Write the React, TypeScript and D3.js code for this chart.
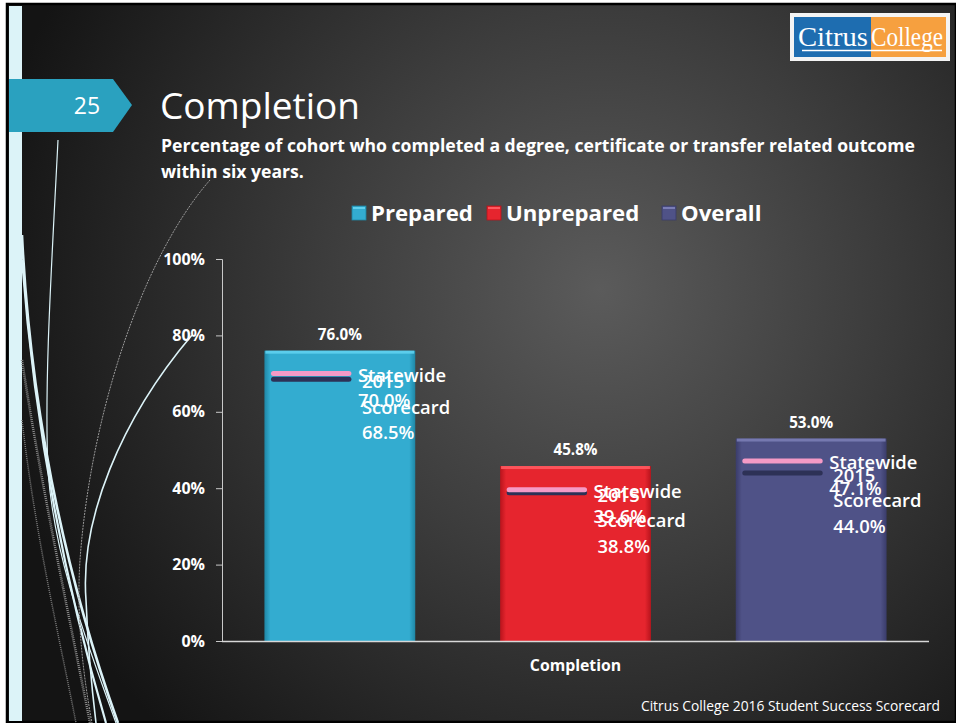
import { useRef, useEffect } from "react";
import * as d3 from "d3";

const categories = ["Completion"];
const series = ["Prepared", "Unprepared", "Overall"];
const values = [76.0, 45.8, 53.0];
const statewide = [70.0, 39.6, 47.1];
const scorecard2015 = [68.5, 38.8, 44.0];
const yTicks = [0, 20, 40, 60, 80, 100];
const colors = ["#33acd0", "#e6252e", "#4f5287"];
const colorsLight = ["#5fd0ee", "#ff5a60", "#7a7db5"];
const colorsDark = ["#1f87a6", "#b8141c", "#3a3c6a"];

const W = 956;
const H = 723;
const MARGIN = { top: 259, right: 27, bottom: 82, left: 222 };
const FONT = "'Open Sans', 'Noto Sans', sans-serif";
const SERIF = "'Liberation Serif', 'DejaVu Serif', serif";

export default function App() {
  const svgRef = useRef<SVGSVGElement>(null);

  useEffect(() => {
    if (!svgRef.current) return;
    const svg = d3.select(svgRef.current);
    svg.selectAll("*").remove();
    svg.attr("width", W).attr("height", H);

    const defs = svg.append("defs");
    const bg = defs
      .append("radialGradient")
      .attr("id", "bg")
      .attr("gradientUnits", "userSpaceOnUse")
      .attr("cx", 600)
      .attr("cy", 290)
      .attr("r", 620);
    bg.append("stop").attr("offset", "0%").attr("stop-color", "#5b5b5b");
    bg.append("stop").attr("offset", "45%").attr("stop-color", "#3c3c3c");
    bg.append("stop").attr("offset", "100%").attr("stop-color", "#141414");

    series.forEach((s, i) => {
      const gr = defs
        .append("linearGradient")
        .attr("id", `bar${i}`)
        .attr("x1", 0)
        .attr("x2", 1)
        .attr("y1", 0)
        .attr("y2", 0);
      gr.append("stop").attr("offset", "0%").attr("stop-color", colorsDark[i]);
      gr.append("stop").attr("offset", "4%").attr("stop-color", colors[i]);
      gr.append("stop").attr("offset", "96%").attr("stop-color", colors[i]);
      gr.append("stop").attr("offset", "100%").attr("stop-color", colorsDark[i]);
    });

    // slide frame
    svg.append("rect").attr("width", W).attr("height", H).attr("fill", "#ffffff");
    svg
      .append("rect")
      .attr("x", 7)
      .attr("y", 4)
      .attr("width", W - 7)
      .attr("height", H - 5)
      .attr("fill", "url(#bg)")
      .attr("stroke", "#000")
      .attr("stroke-width", 2.5);
    svg.append("rect").attr("x", 9).attr("y", 6).attr("width", 13).attr("height", H - 8).attr("fill", "#dcf3f8");

    // decorative curves
    const curves = [
      { d: "M58,140 C52,260 44,380 48,470 C54,560 90,650 116,723", w: 1.2, c: "#dcf3f8", dash: null },
      { d: "M22,235 C30,400 60,560 118,723", w: 2.6, c: "#dcf3f8", dash: null },
      { d: "M22,260 C34,420 64,580 106,723", w: 2.2, c: "#dcf3f8", dash: null },
      { d: "M192,335 C120,420 80,520 86,600 C88,650 92,690 96,723", w: 1.6, c: "#dcf3f8", dash: null },
      { d: "M210,180 C140,260 90,420 80,560 C76,620 84,680 92,723", w: 1.0, c: "#9a9a9a", dash: "2,1" },
      { d: "M22,360 C40,480 70,620 90,723", w: 2.5, c: "#8a8a8a", dash: "1,1" },
      { d: "M22,420 C36,540 60,640 76,723", w: 1.5, c: "#7a7a7a", dash: "1,1" },
    ];
    curves.forEach((cv) => {
      const p = svg
        .append("path")
        .attr("d", cv.d)
        .attr("fill", "none")
        .attr("stroke", cv.c)
        .attr("stroke-width", cv.w);
      if (cv.dash) p.attr("stroke-dasharray", cv.dash);
    });

    // slide number tab
    svg
      .append("path")
      .attr("d", "M9,79 L113,79 L132,105 L113,132 L9,132 Z")
      .attr("fill", "#2aa1bf");
    svg
      .append("text")
      .attr("x", 87)
      .attr("y", 114)
      .attr("text-anchor", "middle")
      .attr("fill", "#fff")
      .attr("font-family", FONT)
      .attr("font-size", 23)
      .text("25");

    // logo
    svg.append("rect").attr("x", 790).attr("y", 13).attr("width", 160).attr("height", 48).attr("fill", "#f4f4f4");
    svg.append("rect").attr("x", 794).attr("y", 17).attr("width", 77).attr("height", 40).attr("fill", "#1e6db0");
    svg.append("rect").attr("x", 871).attr("y", 17).attr("width", 75).attr("height", 40).attr("fill", "#f6a03f");
    svg
      .append("text")
      .attr("x", 798)
      .attr("y", 46)
      .attr("fill", "#fff")
      .attr("font-family", SERIF)
      .attr("font-size", 27)
      .attr("textLength", 70)
      .attr("lengthAdjust", "spacingAndGlyphs")
      .text("Citrus");
    svg
      .append("text")
      .attr("x", 871)
      .attr("y", 46)
      .attr("fill", "#fff")
      .attr("font-family", SERIF)
      .attr("font-size", 27)
      .attr("textLength", 72)
      .attr("lengthAdjust", "spacingAndGlyphs")
      .text("College");
    svg.append("line").attr("x1", 802).attr("x2", 942).attr("y1", 50.5).attr("y2", 50.5).attr("stroke", "#fff").attr("stroke-width", 1.5);

    // titles
    svg
      .append("text")
      .attr("x", 160)
      .attr("y", 119)
      .attr("fill", "#fff")
      .attr("font-family", FONT)
      .attr("font-size", 37)
      .text("Completion");
    const sub = svg
      .append("text")
      .attr("fill", "#fff")
      .attr("font-family", FONT)
      .attr("font-weight", "bold")
      .attr("font-size", 17.6);
    sub
      .append("tspan")
      .attr("x", 161)
      .attr("y", 152)
      .text("Percentage of cohort who completed a degree, certificate or transfer related outcome");
    sub.append("tspan").attr("x", 161).attr("y", 178).text("within six years.");

    // legend
    const legendX = [352, 487, 662];
    series.forEach((s, i) => {
      svg
        .append("rect")
        .attr("x", legendX[i])
        .attr("y", 206)
        .attr("width", 14)
        .attr("height", 14)
        .attr("fill", `url(#bar${i})`)
        .attr("stroke", colorsDark[i])
        .attr("stroke-width", 0.8);
      svg
        .append("rect")
        .attr("x", legendX[i] + 1)
        .attr("y", 207)
        .attr("width", 12)
        .attr("height", 2)
        .attr("fill", colorsLight[i]);
      svg
        .append("text")
        .attr("x", legendX[i] + 19)
        .attr("y", 221)
        .attr("fill", "#fff")
        .attr("font-family", FONT)
        .attr("font-weight", "bold")
        .attr("font-size", 22.2)
        .text(s);
    });

    // chart
    const innerW = W - MARGIN.left - MARGIN.right;
    const innerH = H - MARGIN.top - MARGIN.bottom;
    const g = svg.append("g").attr("transform", `translate(${MARGIN.left},${MARGIN.top})`);

    const x0 = d3.scaleBand().domain(categories).range([0, innerW]).padding(0);
    const x1 = d3
      .scaleBand()
      .domain(series)
      .range([0, x0.bandwidth()])
      .paddingInner(0.36)
      .paddingOuter(0.18);
    const y = d3.scaleLinear().domain([0, 100]).range([innerH, 0]);
    const bw = x1.bandwidth();

    // y axis
    const yAxis = g
      .append("g")
      .call(
        d3
          .axisLeft(y)
          .tickValues(yTicks)
          .tickSize(6)
          .tickPadding(11)
          .tickFormat((d) => `${d}%`)
      );
    yAxis.select(".domain").attr("stroke", "#c8c8c8").attr("stroke-width", 1);
    yAxis.selectAll(".tick line").attr("stroke", "#c8c8c8");
    yAxis
      .selectAll(".tick text")
      .attr("fill", "#fff")
      .attr("font-family", FONT)
      .attr("font-weight", "bold")
      .attr("font-size", 16);

    categories.forEach((cat) => {
      const cx = x0(cat) ?? 0;
      series.forEach((s, i) => {
        const bx = cx + (x1(s) ?? 0);
        const by = y(values[i]);
        g.append("rect")
          .attr("x", bx)
          .attr("y", by)
          .attr("width", bw)
          .attr("height", innerH - by)
          .attr("fill", `url(#bar${i})`);
        g.append("rect")
          .attr("x", bx + 1)
          .attr("y", by)
          .attr("width", bw - 2)
          .attr("height", 3)
          .attr("fill", colorsLight[i])
          .attr("opacity", 0.9);

        g.append("text")
          .attr("x", bx + bw / 2)
          .attr("y", by - 11)
          .attr("text-anchor", "middle")
          .attr("fill", "#fff")
          .attr("font-family", FONT)
          .attr("font-weight", "bold")
          .attr("font-size", 15.2)
          .text(`${values[i].toFixed(1)}%`);

        // statewide + 2015 scorecard markers
        const lx1 = bx + bw * 0.06;
        const lx2 = bx + bw * 0.56;
        const ys = y(statewide[i]);
        const yc = y(scorecard2015[i]);
        g.append("line")
          .attr("x1", lx1)
          .attr("x2", lx2)
          .attr("y1", yc)
          .attr("y2", yc)
          .attr("stroke", "#2d3156")
          .attr("stroke-width", 5)
          .attr("stroke-linecap", "round");
        g.append("line")
          .attr("x1", lx1)
          .attr("x2", lx2)
          .attr("y1", ys)
          .attr("y2", ys)
          .attr("stroke", "#f59ac6")
          .attr("stroke-width", 5)
          .attr("stroke-linecap", "round");

        const tx = bx + bw * 0.62;
        const lab = (lines: string[], ty: number, dx: number) => {
          const t = g
            .append("text")
            .attr("fill", "#fff")
            .attr("font-family", FONT)
            .attr("font-weight", 600)
            .attr("font-size", 18.4)
            .attr("dominant-baseline", "central");
          lines.forEach((ln, k) => {
            t.append("tspan").attr("x", tx + dx).attr("y", ty + k * 25.5).text(ln);
          });
        };
        lab(["Statewide", `${statewide[i].toFixed(1)}%`], ys, 0);
        lab(["2015", "Scorecard", `${scorecard2015[i].toFixed(1)}%`], yc + 1, 4);
      });

      g.append("text")
        .attr("x", cx + x0.bandwidth() / 2)
        .attr("y", innerH + 30)
        .attr("text-anchor", "middle")
        .attr("fill", "#fff")
        .attr("font-family", FONT)
        .attr("font-weight", "bold")
        .attr("font-size", 15.8)
        .text(cat);
    });

    // x axis line
    g.append("line")
      .attr("x1", 0)
      .attr("x2", innerW)
      .attr("y1", innerH + 0.5)
      .attr("y2", innerH + 0.5)
      .attr("stroke", "#d8d8d8")
      .attr("stroke-width", 1.5);

    // footer
    svg
      .append("text")
      .attr("x", 940)
      .attr("y", 711)
      .attr("text-anchor", "end")
      .attr("fill", "#fff")
      .attr("font-family", FONT)
      .attr("font-size", 13.8)
      .text("Citrus College 2016 Student Success Scorecard");
  }, []);

  return (
    <div style={{ position: "absolute", left: 0, top: 0 }}>
      <svg ref={svgRef} style={{ display: "block" }} />
    </div>
  );
}
